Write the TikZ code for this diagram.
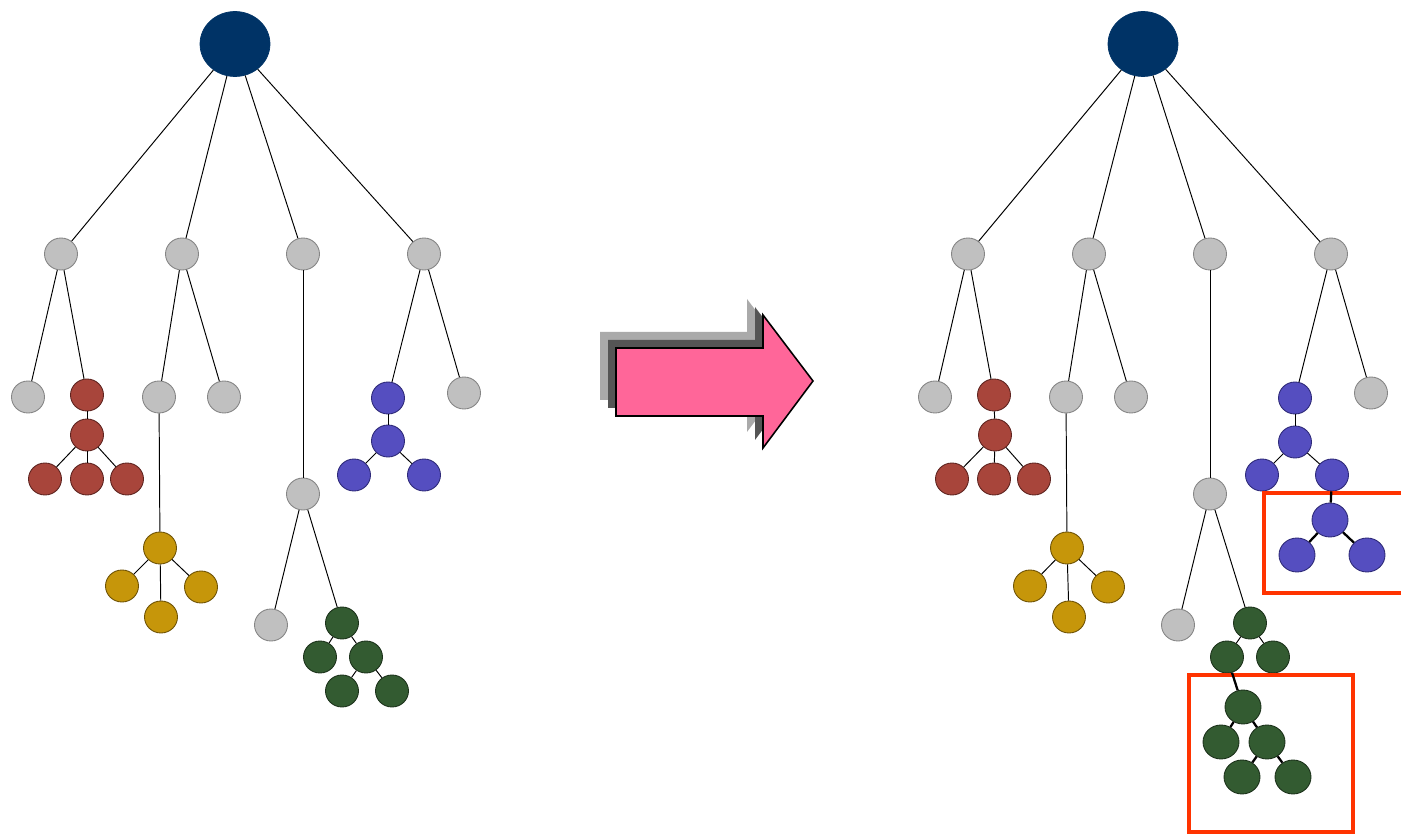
\documentclass[tikz,border=0pt]{standalone}
\usetikzlibrary{shapes.geometric}
\definecolor{rootc}{HTML}{003366}
\definecolor{grayc}{HTML}{C0C0C0}
\definecolor{grayb}{HTML}{858585}
\definecolor{redc}{HTML}{A8453B}
\definecolor{redb}{HTML}{5E2420}
\definecolor{yelc}{HTML}{C6960A}
\definecolor{yelb}{HTML}{6E5205}
\definecolor{grnc}{HTML}{335B31}
\definecolor{grnb}{HTML}{1C321B}
\definecolor{bluc}{HTML}{554EC0}
\definecolor{blub}{HTML}{2E2A78}
\definecolor{pinkc}{HTML}{FF6699}
\definecolor{shadowd}{HTML}{555555}
\definecolor{shadowl}{HTML}{AAAAAA}
\definecolor{boxc}{HTML}{FF3300}
\tikzset{
  nd/.style={ellipse, inner sep=0pt, minimum width=0.66cm, minimum height=0.64cm, line width=0.5pt},
  rootnode/.style={ellipse, inner sep=0pt, minimum width=1.40cm, minimum height=1.30cm, fill=rootc, draw=rootc},
  gnode/.style={nd, fill=grayc, draw=grayb},
  rnode/.style={nd, fill=redc, draw=redb},
  ynode/.style={nd, fill=yelc, draw=yelb},
  gr/.style={nd, fill=grnc, draw=grnb},
  bnode/.style={nd, fill=bluc, draw=blub},
  bigg/.style={gr, minimum width=0.72cm, minimum height=0.68cm, draw=grnb},
  bigb/.style={bnode, minimum width=0.72cm, minimum height=0.68cm},
  edge/.style={draw=black, line width=0.55pt},
  thick edge/.style={draw=black, line width=1.3pt},
  redbox/.style={draw=boxc, line width=2.8pt},
}
\begin{document}
\begin{tikzpicture}[x=0.02cm, y=-0.02cm]
\useasboundingbox (0,0) rectangle (1401,834);

% ---------- arrow ----------
\fill[shadowl] (600,332) -- (747,332) -- (747,299) -- (797,365) -- (747,432) -- (747,400) -- (600,400) -- cycle;
\fill[shadowd] (608,340) -- (755,340) -- (755,307) -- (805,373) -- (755,440) -- (755,408) -- (608,408) -- cycle;
\filldraw[fill=pinkc, draw=black, line width=0.9pt, line join=miter] (616,348) -- (763,348) -- (763,315) -- (813,381) -- (763,448) -- (763,416) -- (616,416) -- cycle;

% ---------- left tree ----------
\node[rootnode] (L0) at (235,44) {};
\node[gnode] (L1) at (61,254) {};
\node[gnode] (L2) at (182,254) {};
\node[gnode] (L3) at (303,254) {};
\node[gnode] (L4) at (424,254) {};
\node[gnode] (L11) at (28,397) {};
\node[rnode] (L12) at (87,395) {};
\node[rnode] (L121) at (87,435) {};
\node[rnode] (L1211) at (45,479) {};
\node[rnode] (L1212) at (87,479) {};
\node[rnode] (L1213) at (127,479) {};
\node[gnode] (L21) at (159,397) {};
\node[gnode] (L22) at (224,397) {};
\node[ynode] (L211) at (160,548) {};
\node[ynode] (L2111) at (122,586) {};
\node[ynode] (L2112) at (161,617) {};
\node[ynode] (L2113) at (201,587) {};
\node[gnode] (L31) at (303,494) {};
\node[gnode] (L311) at (271,625) {};
\node[gr] (L312) at (342,623) {};
\node[gr] (L3121) at (320,657) {};
\node[gr] (L3122) at (366,657) {};
\node[gr] (L31221) at (342,691) {};
\node[gr] (L31222) at (392,691) {};
\node[bnode] (L41) at (388,398) {};
\node[gnode] (L42) at (464,393) {};
\node[bnode] (L411) at (388,441) {};
\node[bnode] (L4111) at (354,475) {};
\node[bnode] (L4112) at (424,475) {};

\begin{scope}[on background layer/.try]
\end{scope}
\draw[edge] (L0) -- (L1); \draw[edge] (L0) -- (L2); \draw[edge] (L0) -- (L3); \draw[edge] (L0) -- (L4);
\draw[edge] (L1) -- (L11); \draw[edge] (L1) -- (L12); \draw[edge] (L12) -- (L121);
\draw[edge] (L121) -- (L1211); \draw[edge] (L121) -- (L1212); \draw[edge] (L121) -- (L1213);
\draw[edge] (L2) -- (L21); \draw[edge] (L2) -- (L22); \draw[edge] (L21) -- (L211);
\draw[edge] (L211) -- (L2111); \draw[edge] (L211) -- (L2112); \draw[edge] (L211) -- (L2113);
\draw[edge] (L3) -- (L31); \draw[edge] (L31) -- (L311); \draw[edge] (L31) -- (L312);
\draw[edge] (L312) -- (L3121); \draw[edge] (L312) -- (L3122);
\draw[edge] (L3122) -- (L31221); \draw[edge] (L3122) -- (L31222);
\draw[edge] (L4) -- (L41); \draw[edge] (L4) -- (L42); \draw[edge] (L41) -- (L411);
\draw[edge] (L411) -- (L4111); \draw[edge] (L411) -- (L4112);

% ---------- right tree ----------
\node[rootnode] (R0) at (1143,44) {};
\node[gnode] (R1) at (968,254) {};
\node[gnode] (R2) at (1089,254) {};
\node[gnode] (R3) at (1210,254) {};
\node[gnode] (R4) at (1331,254) {};
\node[gnode] (R11) at (935,397) {};
\node[rnode] (R12) at (994,395) {};
\node[rnode] (R121) at (995,435) {};
\node[rnode] (R1211) at (952,479) {};
\node[rnode] (R1212) at (994,479) {};
\node[rnode] (R1213) at (1034,479) {};
\node[gnode] (R21) at (1066,397) {};
\node[gnode] (R22) at (1131,397) {};
\node[ynode] (R211) at (1067,548) {};
\node[ynode] (R2111) at (1030,586) {};
\node[ynode] (R2112) at (1069,617) {};
\node[ynode] (R2113) at (1108,587) {};
\node[gnode] (R31) at (1210,494) {};
\node[gnode] (R311) at (1178,625) {};
\node[gr] (R312) at (1250,623) {};
\node[gr] (R3121) at (1227,657) {};
\node[gr] (R3122) at (1273,657) {};
\node[bnode] (R41) at (1295,398) {};
\node[gnode] (R42) at (1371,393) {};
\node[bnode] (R411) at (1295,442) {};
\node[bnode] (R4111) at (1262,475) {};
\node[bnode] (R4112) at (1332,475) {};

\draw[edge] (R0) -- (R1); \draw[edge] (R0) -- (R2); \draw[edge] (R0) -- (R3); \draw[edge] (R0) -- (R4);
\draw[edge] (R1) -- (R11); \draw[edge] (R1) -- (R12); \draw[edge] (R12) -- (R121);
\draw[edge] (R121) -- (R1211); \draw[edge] (R121) -- (R1212); \draw[edge] (R121) -- (R1213);
\draw[edge] (R2) -- (R21); \draw[edge] (R2) -- (R22); \draw[edge] (R21) -- (R211);
\draw[edge] (R211) -- (R2111); \draw[edge] (R211) -- (R2112); \draw[edge] (R211) -- (R2113);
\draw[edge] (R3) -- (R31); \draw[edge] (R31) -- (R311); \draw[edge] (R31) -- (R312);
\draw[edge] (R312) -- (R3121); \draw[edge] (R312) -- (R3122);
\draw[edge] (R4) -- (R41); \draw[edge] (R4) -- (R42); \draw[edge] (R41) -- (R411);
\draw[edge] (R411) -- (R4111); \draw[edge] (R411) -- (R4112);

% ---------- highlighted boxes ----------
\fill[white] (1264,493) rectangle (1401,593);
\draw[redbox] (1401,493) -- (1264,493) -- (1264,593) -- (1401,593);
\fill[white] (1189,675) rectangle (1353,832);
\draw[redbox] (1189,675) rectangle (1353,832);

\node[bigb] (B1) at (1330,520) {};
\node[bigb] (B2) at (1297,555) {};
\node[bigb] (B3) at (1367,555) {};
\draw[thick edge] (R4112) -- (B1);
\draw[thick edge] (B1) -- (B2); \draw[thick edge] (B1) -- (B3);

\node[bigg] (G1) at (1243,707) {};
\node[bigg] (G2) at (1221,742) {};
\node[bigg] (G3) at (1267,742) {};
\node[bigg] (G4) at (1242,777) {};
\node[bigg] (G5) at (1293,777) {};
\draw[thick edge] (R3121) -- (G1);
\draw[thick edge] (G1) -- (G2); \draw[thick edge] (G1) -- (G3);
\draw[thick edge] (G3) -- (G4); \draw[thick edge] (G3) -- (G5);
\end{tikzpicture}
\end{document}
